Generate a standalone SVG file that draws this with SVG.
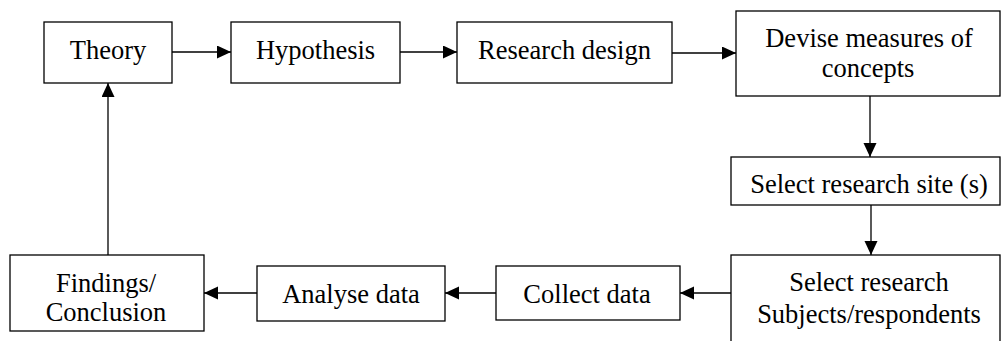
<svg xmlns="http://www.w3.org/2000/svg" width="1002" height="341" viewBox="0 0 1002 341">
<style>
.box{fill:#fff;stroke:#000;stroke-width:1.3}
.t{font-family:"Liberation Serif","Times New Roman",serif;font-size:26.5px;fill:#000;text-anchor:middle}
.c{fill:none;stroke:#000;stroke-width:1.3}
</style>
<defs>
<marker id="ah" markerUnits="userSpaceOnUse" markerWidth="15" markerHeight="14" refX="14" refY="6.5" orient="auto">
<path d="M0,0 L14,6.5 L0,13 z" fill="#000"/>
</marker>
</defs>
<rect width="1002" height="341" fill="#fff"/>
<g id="connectors">
<line class="c" x1="172" y1="52" x2="231" y2="52" marker-end="url(#ah)"/>
<line class="c" x1="400" y1="52" x2="457" y2="52" marker-end="url(#ah)"/>
<line class="c" x1="672" y1="53" x2="736" y2="53" marker-end="url(#ah)"/>
<line class="c" x1="870" y1="96" x2="870" y2="157" marker-end="url(#ah)"/>
<line class="c" x1="871" y1="205" x2="871" y2="255" marker-end="url(#ah)"/>
<line class="c" x1="731" y1="293" x2="680" y2="293" marker-end="url(#ah)"/>
<line class="c" x1="496" y1="293" x2="445" y2="293" marker-end="url(#ah)"/>
<line class="c" x1="257" y1="293" x2="204" y2="293" marker-end="url(#ah)"/>
<line class="c" x1="108" y1="255" x2="108" y2="83" marker-end="url(#ah)"/>
</g>
<g id="theory">
<rect class="box" x="44" y="22" width="128" height="61"/>
<text class="t" x="108" y="59">Theory</text>
</g>
<g id="hypothesis">
<rect class="box" x="231" y="22" width="169" height="61"/>
<text class="t" x="315.5" y="59">Hypothesis</text>
</g>
<g id="research-design">
<rect class="box" x="457" y="22" width="215" height="61"/>
<text class="t" x="564.5" y="59">Research design</text>
</g>
<g id="devise-measures">
<rect class="box" x="736" y="11" width="264" height="85"/>
<text class="t" x="869" y="47">Devise measures of</text>
<text class="t" x="868" y="77">concepts</text>
</g>
<g id="select-site">
<rect class="box" x="731" y="157" width="269" height="48"/>
<text class="t" x="869" y="193">Select research site (s)</text>
</g>
<g id="select-subjects">
<rect class="box" x="731" y="255" width="269" height="95"/>
<text class="t" x="869" y="291">Select research</text>
<text class="t" x="869" y="323">Subjects/respondents</text>
</g>
<g id="collect-data">
<rect class="box" x="496" y="266" width="184" height="54"/>
<text class="t" x="587" y="303">Collect data</text>
</g>
<g id="analyse-data">
<rect class="box" x="257" y="266" width="188" height="55"/>
<text class="t" x="351" y="303">Analyse data</text>
</g>
<g id="findings">
<rect class="box" x="10" y="255" width="194" height="76"/>
<text class="t" x="106" y="292">Findings/</text>
<text class="t" x="106" y="321">Conclusion</text>
</g>
</svg>
